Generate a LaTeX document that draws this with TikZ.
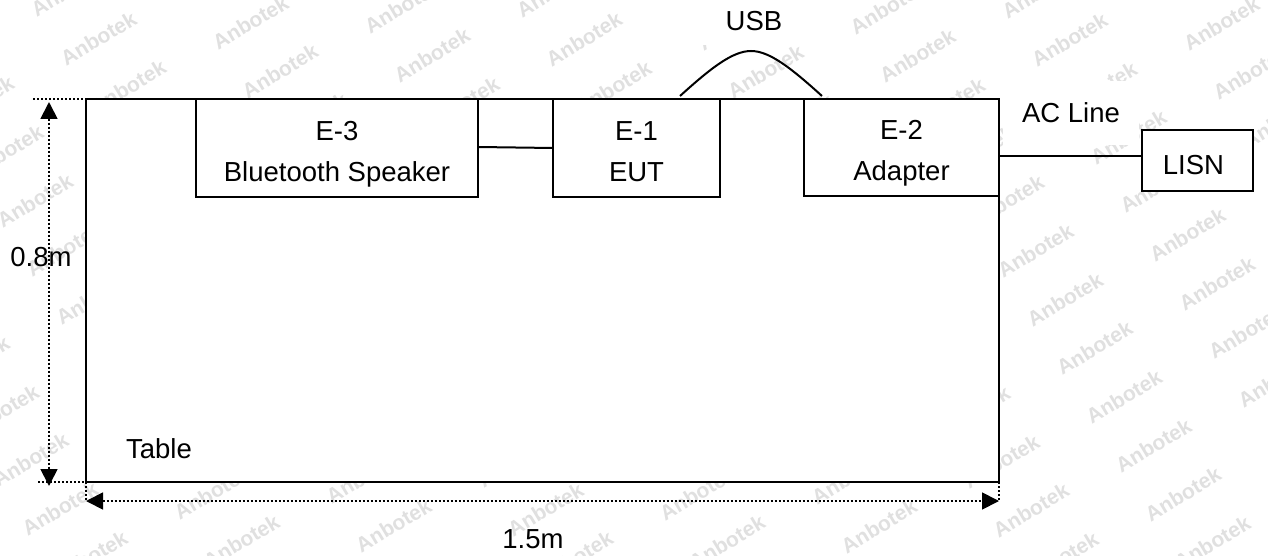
\documentclass[tikz,border=0pt]{standalone}
\usepackage{fontspec}
\setmainfont{Liberation Sans}
\usetikzlibrary{arrows.meta}
\tikzset{
  box/.style={draw=black,line width=2pt,fill=white,inner sep=0pt,outer sep=0pt,align=center,font=\fontsize{27.5}{41}\selectfont},
  lbl/.style={inner sep=0pt,font=\fontsize{27.5}{32}\selectfont,text=black},
  wire/.style={draw=black,line width=2pt},
  guide/.style={draw=black,line width=1.8pt,dash pattern=on 2pt off 2pt},
  dim/.style={guide,{Triangle[length=17pt,width=17pt]}-{Triangle[length=17pt,width=17pt]}},
  wmark/.style={inner sep=0pt,rotate=31,text=black!12,font=\fontsize{21}{24}\selectfont\bfseries}
}
\newcommand{\dropline}{\rule{0pt}{32pt}}
\newcommand{\liftline}{\rule[-6pt]{0pt}{6pt}}
\begin{document}
\begin{tikzpicture}[x=1pt,y=-1pt]
\useasboundingbox (0,0) rectangle (1268,556);
\fill[white] (0,0) rectangle (1268,556);
% watermark lattice: only the marks that can be seen outside the table
\begin{scope}
\clip (0,0) rectangle (1268,556);
\foreach \n in {0,...,22}{
  \foreach \m in {0,...,11}{
    \pgfmathsetmacro{\wx}{1183+29.5*(\n-14)+152*(\m-7)}
    \pgfmathsetmacro{\wy}{494+48.7*(\n-14)-16*(\m-7)}
    \pgfmathtruncatemacro{\hideit}{((\wx>125)&&(\wx<960)&&(\wy>125)&&(\wy<460))||(\wx<-30)||(\wx>1298)||(\wy<-15)||(\wy>571) ? 1 : 0}
    \ifnum\hideit=0
      \node[wmark] (wm\n x\m) at (\wx,\wy) {Anbotek};
    \fi
  }
}
\end{scope}
% table
\node[box,line width=2.4pt,minimum width=913pt,minimum height=383pt,anchor=north west] (table) at (86,99) {};
\node[box,minimum width=282pt,minimum height=98pt,anchor=north west] (e3) at (196,99) {\dropline E-3\\Bluetooth Speaker\liftline};
\node[box,minimum width=167pt,minimum height=98pt,anchor=north west] (e1) at (553,99) {\dropline E-1\\EUT\liftline};
\node[box,minimum width=195pt,minimum height=97pt,anchor=north west] (e2) at (804,99) {\dropline E-2\\Adapter\liftline};
\node[box,minimum width=111pt,minimum height=61pt,anchor=north west] (lisn) at (1142,130) {\rule{0pt}{28pt}LISN\hspace{8pt}};
\node[lbl,fill=white,minimum width=110pt,minimum height=48pt] (usb) at (754,21) {USB};
\node[lbl,fill=white,minimum width=136pt,minimum height=64pt] (acl) at (1071,113) {AC Line};
\node[lbl] (h) at (41,257) {0.8m};
\node[lbl] (w) at (533,539) {1.5m};
\node[lbl] (tlbl) at (159,449) {Table};
% wires
\draw[wire] (e3.east) ++(0,-1) coordinate (a) -- (e1.west);
\draw[wire] (e2.east) ++(0,9) coordinate (b) -- (b -| lisn.west);
\coordinate (u1) at (680,96);
\coordinate (u2) at (822,96);
\draw[wire] (u1) .. controls (712,67) and (733,51) .. (751,51) .. controls (769,51) and (790,67) .. (u2);
% dimension guides
\coordinate (t1) at (33,99);
\coordinate (t2) at (103,99);
\coordinate (b1) at (38,482);
\coordinate (b2) at (108,482);
\coordinate (va) at (49,102);
\coordinate (vb) at (49,486);
\coordinate (ha) at (86,501);
\coordinate (hb) at (999,501);
\draw[guide] (t1) -- (t2);
\draw[guide] (b1) -- (b2);
\draw[guide] (table.south west) -- (ha);
\draw[guide] (table.south east) -- (hb);
\draw[dim] (va) -- (vb);
\draw[dim] (ha) -- (hb);
\end{tikzpicture}
\end{document}
